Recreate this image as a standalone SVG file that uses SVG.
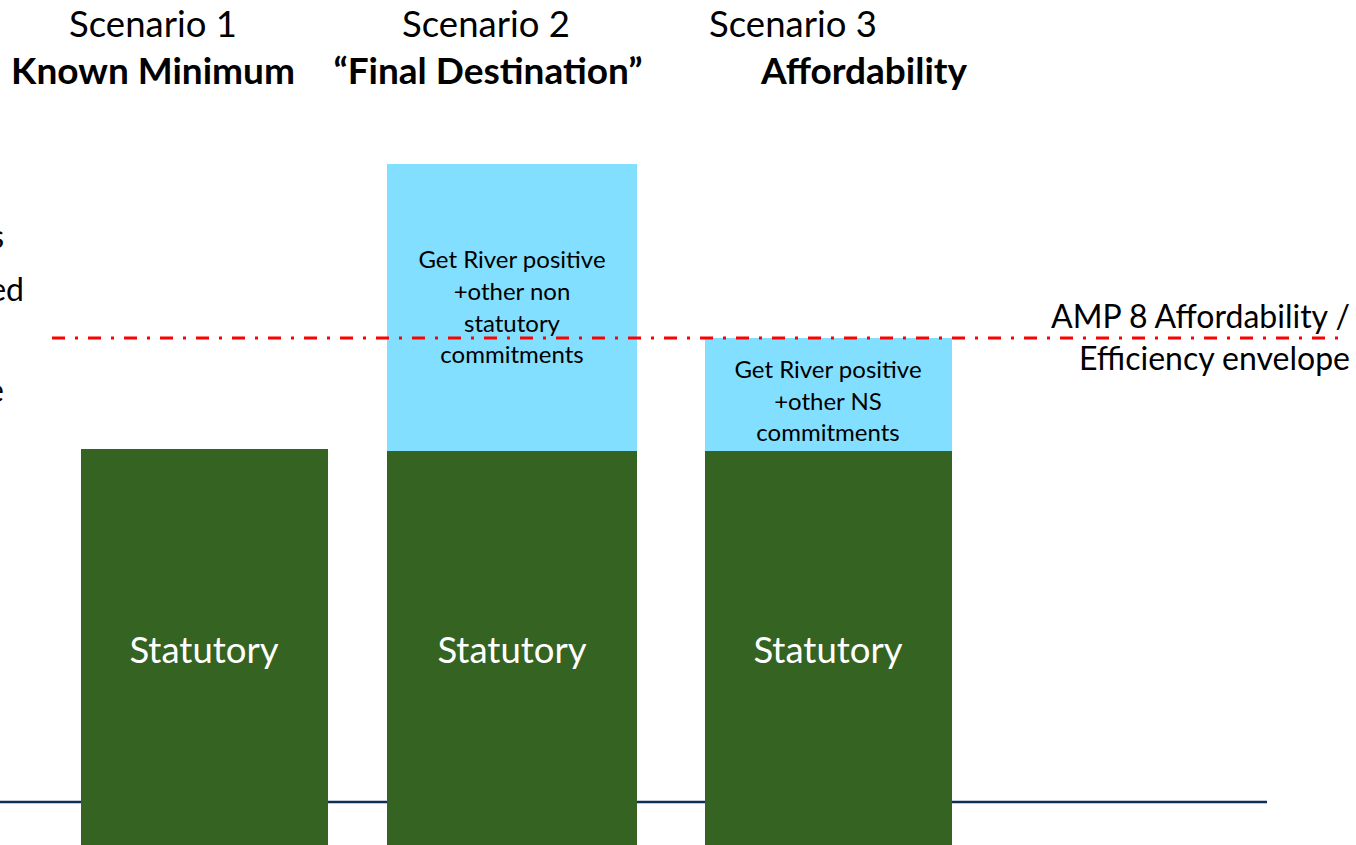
<svg xmlns="http://www.w3.org/2000/svg" width="1356" height="845" viewBox="0 0 1356 845">
<style>
text{font-family:Lato,"Open Sans","Liberation Sans",sans-serif;fill:#000}
.hd{font-size:36.5px;text-anchor:middle}
.hb{font-size:37px;font-weight:bold;text-anchor:middle}
.bl{font-size:24px;text-anchor:middle}
.st{font-size:36.5px;text-anchor:middle;fill:#fff}
.rt{font-size:32px;text-anchor:end}
.lt{font-size:32px;text-anchor:end}
.grn{fill:#356322}
.blu{fill:#83dfff}
</style>
<rect width="1356" height="845" fill="#fff"/>
<g id="edge-text">
<text class="lt" x="4" y="248">s</text>
<text class="lt" x="24" y="301">ed</text>
<text class="lt" x="4" y="402">e</text>
</g>
<g id="connectors">
<line x1="0" y1="802" x2="1267" y2="802" stroke="#0f2e5a" stroke-width="2.5"/>
</g>
<g id="scenario1">
<text class="hd" x="153" y="37">Scenario 1</text>
<text class="hb" x="153" y="84">Known Minimum</text>
<rect class="grn" x="81" y="449" width="247" height="396"/>
<text class="st" x="204" y="663">Statutory</text>
</g>
<g id="scenario2">
<text class="hd" x="486" y="37">Scenario 2</text>
<text class="hb" x="488" y="84">“Final Destination”</text>
<rect class="blu" x="387" y="164" width="250" height="287"/>
<rect class="grn" x="387" y="451" width="250" height="394"/>
<text class="bl" x="512" y="268">Get River positive</text>
<text class="bl" x="512" y="300">+other non</text>
<text class="bl" x="512" y="332">statutory</text>
<text class="bl" x="512" y="363">commitments</text>
<text class="st" x="512" y="663">Statutory</text>
</g>
<g id="scenario3">
<text class="hd" x="793" y="37">Scenario 3</text>
<text class="hb" x="864" y="84">Affordability</text>
<rect class="blu" x="705" y="338" width="247" height="113"/>
<rect class="grn" x="705" y="451" width="247" height="394"/>
<text class="bl" x="828" y="378">Get River positive</text>
<text class="bl" x="828" y="410">+other NS</text>
<text class="bl" x="828" y="441">commitments</text>
<text class="st" x="828" y="663">Statutory</text>
</g>
<g id="envelope">
<line x1="52" y1="338" x2="1340" y2="338" stroke="#ff0000" stroke-width="3" stroke-dasharray="13 10 3 10"/>
<text class="rt" x="1350" y="328">AMP 8 Affordability /</text>
<text class="rt" x="1350" y="370">Efficiency envelope</text>
</g>
</svg>
